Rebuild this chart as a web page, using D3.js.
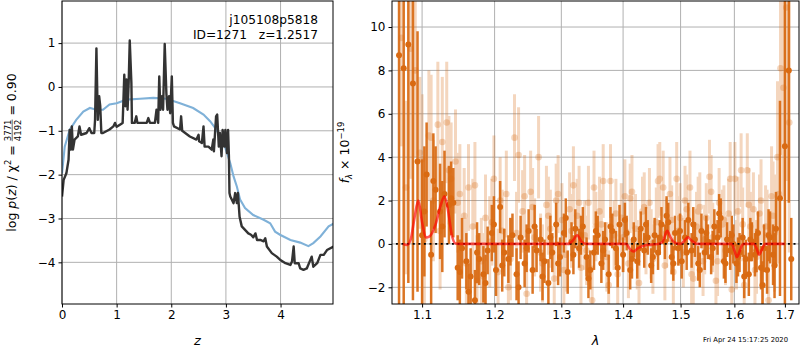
<!DOCTYPE html>
<html>
<head>
<meta charset="utf-8">
<script src="https://cdn.jsdelivr.net/npm/d3@7"></script>
<style>
body { margin: 0; background: #fff; }
text { font-family: "DejaVu Sans", sans-serif; white-space: pre; }
</style>
</head>
<body>
<svg width="800" height="350"></svg>
<script>
// ---- p(z) panel data ----
var zGrid = [0, 0.03, 0.08, 0.12, 0.14, 0.16, 0.18, 0.2, 0.23, 0.29, 0.32, 0.35, 0.45, 0.5, 0.54, 0.59, 0.605, 0.63, 0.655, 0.68, 0.70, 0.72, 0.75, 0.87, 0.94, 0.97, 1.0, 1.06, 1.11, 1.14, 1.16, 1.18, 1.2, 1.22, 1.24, 1.27, 1.28, 1.33, 1.36, 1.38, 1.55, 1.58, 1.61, 1.70, 1.73, 1.76, 1.78, 1.80, 1.83, 1.85, 1.88, 1.91, 1.93, 1.96, 1.98, 2.01, 2.03, 2.05, 2.16, 2.18, 2.2, 2.34, 2.46, 2.5, 2.51, 2.56, 2.59, 2.61, 2.68, 2.74, 2.77, 2.78, 2.82, 2.84, 2.87, 2.89, 2.92, 2.94, 2.97, 2.99, 3.02, 3.04, 3.055, 3.065, 3.08, 3.14, 3.17, 3.2, 3.22, 3.25, 3.29, 3.35, 3.41, 3.46, 3.5, 3.54, 3.57, 3.63, 3.69, 3.72, 3.75, 3.84, 3.93, 3.99, 4.09, 4.18, 4.21, 4.24, 4.26, 4.33, 4.36, 4.42, 4.48, 4.57, 4.6, 4.67, 4.73, 4.79, 4.85, 4.97];
var logpz = [-2.5, -2.12, -1.97, -1.66, -0.98, -1.43, -0.9, -1.43, -1.2, -1.13, -0.9, -1.09, -1.05, -0.94, -1.05, -1.05, -0.75, 0.88, -0.75, -0.21, -0.44, -1.05, -1.05, -0.97, -0.9, -0.82, -0.91, -0.86, -0.82, 0.28, -0.44, 0.17, -0.52, 0.09, 1.06, 0.09, -0.82, -0.82, -0.67, -0.82, -0.82, -0.71, -0.82, -0.82, -0.52, -0.82, 0.24, -0.52, -0.21, -0.52, 0.98, -0.14, -0.52, -0.21, -0.6, 0.24, -0.82, -0.9, -0.97, -0.67, -1.0, -1.13, -1.2, -1.09, -1.24, -1.28, -0.9, -1.36, -1.36, -1.43, -1.2, -1.47, -0.67, -0.63, -1.36, -1.05, -1.58, -0.98, -1.36, -0.98, -1.51, -0.98, -1.58, -2.42, -2.5, -2.65, -2.42, -2.65, -2.42, -2.96, -3.18, -3.26, -3.34, -3.37, -3.43, -3.34, -3.49, -3.49, -3.52, -3.45, -3.64, -3.79, -3.87, -3.94, -4.02, -4.06, -3.98, -3.64, -4.02, -4.02, -4.14, -4.17, -4.14, -3.87, -4.1, -4.02, -3.83, -3.83, -3.72, -3.64];
var zPrior = [0, 0.05, 0.14, 0.26, 0.39, 0.51, 0.63, 0.75, 0.87, 1.0, 1.18, 1.43, 1.67, 1.91, 2.16, 2.4, 2.59, 2.71, 2.83, 2.96, 3.08, 3.14, 3.2, 3.26, 3.35, 3.5, 3.69, 3.81, 3.9, 3.99, 4.18, 4.36, 4.51, 4.6, 4.73, 4.88, 4.97];
var priorLogp = [-1.97, -1.36, -0.98, -0.75, -0.56, -0.48, -0.52, -0.52, -0.4, -0.37, -0.29, -0.27, -0.25, -0.27, -0.37, -0.48, -0.63, -0.78, -0.98, -1.28, -1.74, -2.04, -2.27, -2.57, -2.76, -2.92, -3.03, -3.11, -3.3, -3.37, -3.49, -3.55, -3.63, -3.56, -3.41, -3.18, -3.12];
var zTicks = [0, 1, 2, 3, 4];
var pzTicks = [-4, -3, -2, -1, 0, 1];

// ---- spectrum panel data (flux in 1e-19) ----
var lamA = [1.070, 1.076, 1.082, 1.088, 1.094, 1.100, 1.106, 1.112, 1.118, 1.124, 1.130, 1.136, 1.142, 1.148, 1.154, 1.160, 1.166, 1.172, 1.178, 1.184, 1.190, 1.196, 1.202, 1.208, 1.214, 1.220, 1.226, 1.232, 1.238, 1.244, 1.250, 1.256, 1.262, 1.268, 1.274, 1.280, 1.286, 1.292, 1.298, 1.304, 1.310, 1.316, 1.322, 1.328, 1.334, 1.340, 1.346, 1.352, 1.358, 1.364, 1.370, 1.376, 1.382, 1.388, 1.394, 1.400, 1.406, 1.412, 1.418, 1.424, 1.430, 1.436, 1.442, 1.448, 1.454, 1.460, 1.466, 1.472, 1.478, 1.484, 1.490, 1.496, 1.502, 1.508, 1.514, 1.520, 1.526, 1.532, 1.538, 1.544, 1.550, 1.556, 1.562, 1.568, 1.574, 1.580, 1.586, 1.592, 1.598, 1.604, 1.610, 1.616, 1.622, 1.628, 1.634, 1.640, 1.646, 1.652, 1.658, 1.664, 1.670, 1.676, 1.682, 1.690, 1.700, 1.708, 1.713];
var fluxA = [8.7, 8.1, 9.2, 7.4, 3.8, 0.4, 3.2, -0.5, 2.5, 1.5, 2.3, 1.8, 1.9, -1.1, -0.2, -0.8, -1.5, -2.6, -0.7, -1.4, -0.3, 0.5, -1.2, 1.7, -0.4, -0.7, 0.4, -1.4, 0.3, -0.9, 0.6, -1.2, -0.3, 0.2, -0.8, -1.8, -0.4, 0.9, -0.6, 0.5, -1.3, 0.1, 0.7, -0.2, 0.8, -0.6, -1.2, -0.4, 0.4, -0.9, 0.2, -1.4, 0.6, -0.2, 0.9, -0.5, 0.5, -1.2, 0.2, -0.8, 0.7, -0.3, 0.3, -1.0, 0.4, -0.4, 0.9, 0.1, 1.0, -0.6, 0.5, -0.2, -0.8, 0.3, 1.1, -0.3, 0.2, -0.9, 0.6, -0.4, 0.1, -0.6, 0.8, 0.3, 1.2, -0.8, 0.2, -0.3, 0.0, -0.9, -0.4, 0.3, -0.7, -1.4, 0.1, -0.5, 0.5, -1.1, -0.2, -1.2, 0.3, -0.5, 0.7, 2.1, 4.5, 8.0, -0.7];
var errA = [14, 12, 11, 10, 6, 3.5, 2.4, 2.5, 2.0, 2.2, 2.0, 1.8, 1.6, 1.5, 1.4, 1.3, 1.3, 1.4, 1.2, 1.3, 1.1, 1.3, 1.2, 1.2, 1.1, 1.1, 1.0, 1.2, 1.0, 1.1, 1.0, 1.1, 1.0, 1.0, 1.0, 1.1, 0.9, 1.0, 0.9, 0.9, 1.0, 0.9, 0.9, 0.9, 0.9, 0.9, 0.9, 0.8, 0.9, 0.9, 0.8, 0.9, 0.8, 0.8, 0.9, 0.8, 0.8, 0.9, 0.8, 0.8, 0.8, 0.8, 0.8, 0.8, 0.8, 0.8, 0.8, 0.8, 0.9, 0.8, 0.8, 0.8, 0.8, 0.8, 0.8, 0.8, 0.8, 0.8, 0.8, 0.8, 0.8, 0.8, 0.8, 0.8, 0.9, 0.8, 0.8, 0.9, 0.9, 0.9, 0.9, 0.9, 0.9, 1.0, 0.9, 1.0, 1.0, 1.0, 1.1, 1.1, 1.2, 1.4, 1.7, 4.5, 15, 6.1, 1.9];
// extra dark pixels between the ones above
var lamA2 = [1.103, 1.115, 1.127, 1.139, 1.151, 1.163, 1.175, 1.187, 1.199, 1.211, 1.223, 1.235, 1.247, 1.259, 1.271, 1.283, 1.295, 1.307, 1.319, 1.331, 1.343, 1.355, 1.367, 1.379, 1.391, 1.403, 1.415, 1.427, 1.439, 1.451, 1.463, 1.475, 1.487, 1.499, 1.511, 1.523, 1.535, 1.547, 1.559, 1.571, 1.583, 1.595, 1.607, 1.619, 1.631, 1.643, 1.655, 1.667, 1.679];
var fluxA2 = [1.5, 2.9, 0.8, 2.1, -1.3, -2.2, -0.4, -1.8, 0.9, -1.0, 0.1, -2.0, -0.2, 0.8, -1.5, 0.3, -0.9, 1.2, -0.5, 0.4, -1.6, 0.6, -0.3, 0.8, -1.1, 1.1, -0.7, -0.2, 0.9, -0.6, 0.3, 1.3, -0.9, 0.6, -0.4, 0.9, -1.2, 0.5, -0.2, 1.4, -0.9, 0.4, -0.6, -1.5, 0.2, -0.3, -1.9, 0.4, -1.0];
var errA2 = [3.0, 2.2, 2.1, 1.7, 1.5, 1.3, 1.4, 1.3, 1.3, 1.2, 1.1, 1.2, 1.1, 1.0, 1.1, 1.0, 1.0, 0.9, 0.9, 0.9, 0.9, 0.9, 0.9, 0.9, 0.9, 0.8, 0.9, 0.8, 0.8, 0.8, 0.8, 0.9, 0.8, 0.8, 0.8, 0.8, 0.8, 0.8, 0.8, 0.9, 0.9, 0.9, 0.9, 1.0, 1.0, 1.0, 1.1, 1.2, 1.5];

var lamB = [1.073, 1.079, 1.085, 1.091, 1.097, 1.103, 1.109, 1.115, 1.121, 1.127, 1.133, 1.139, 1.145, 1.151, 1.157, 1.163, 1.169, 1.175, 1.181, 1.187, 1.193, 1.199, 1.205, 1.211, 1.217, 1.223, 1.229, 1.235, 1.241, 1.247, 1.253, 1.259, 1.265, 1.271, 1.277, 1.283, 1.289, 1.295, 1.301, 1.307, 1.313, 1.319, 1.325, 1.331, 1.337, 1.343, 1.349, 1.355, 1.361, 1.367, 1.373, 1.379, 1.385, 1.391, 1.397, 1.403, 1.409, 1.415, 1.421, 1.427, 1.433, 1.439, 1.445, 1.451, 1.457, 1.463, 1.469, 1.475, 1.481, 1.487, 1.493, 1.499, 1.505, 1.511, 1.517, 1.523, 1.529, 1.535, 1.541, 1.547, 1.553, 1.559, 1.565, 1.571, 1.577, 1.583, 1.589, 1.595, 1.601, 1.607, 1.613, 1.619, 1.625, 1.631, 1.637, 1.643, 1.649, 1.655, 1.661, 1.667, 1.673, 1.679, 1.685, 1.691, 1.697, 1.703, 1.709];
var fluxB = [9.5, 2.6, 9.0, 8.0, 4.2, 0.2, 5.0, 2.0, 5.5, 4.7, 5.6, 3.0, 3.8, 2.3, 1.3, 2.6, 0.8, -1.7, -0.8, 1.2, 0.1, 3.0, -1.3, 0.6, 2.3, -0.7, 4.9, 4.1, 1.5, -2.3, 2.4, 0.3, 4.0, -0.9, 1.8, 0.7, -1.6, 2.3, 1.1, -0.5, 1.6, 2.7, 1.3, -1.1, 0.4, 1.9, -2.6, 0.8, 1.5, 2.9, -0.6, 2.9, 0.4, -1.4, 1.2, 2.2, -0.9, 2.4, 0.7, -1.8, 1.5, 0.2, 1.9, -0.7, 1.0, 3.0, 2.6, 0.5, 2.3, -1.3, 3.0, 1.2, -0.4, 1.6, 2.6, -1.6, 0.8, 1.7, -0.8, 1.2, 3.1, 0.3, -1.7, 1.9, 0.9, -0.3, 1.4, -2.1, 3.0, 1.5, 3.4, -1.9, 3.4, 0.8, 1.6, -0.6, 1.4, -1.9, 0.8, -2.6, 2.2, 0.5, 4.0, 8.1, 7.2, 10.9, 5.6];
var errB = [5, 4, 6, 4, 3.5, 3.0, 3.0, 2.8, 2.9, 3.0, 2.8, 2.6, 2.4, 2.3, 2.2, 2.0, 2.2, 2.1, 2.0, 2.0, 2.1, 2.0, 2.0, 1.9, 2.0, 1.9, 2.0, 2.2, 1.9, 1.8, 1.9, 1.8, 1.9, 1.8, 1.8, 1.8, 1.7, 1.8, 1.7, 1.7, 1.7, 1.8, 1.7, 1.7, 1.6, 1.7, 1.6, 1.6, 1.6, 1.7, 1.6, 1.7, 1.6, 1.6, 1.6, 1.7, 1.6, 1.7, 1.6, 1.6, 1.6, 1.6, 1.6, 1.6, 1.6, 1.7, 1.7, 1.6, 1.7, 1.6, 1.7, 1.6, 1.6, 1.6, 1.7, 1.6, 1.6, 1.6, 1.6, 1.6, 1.7, 1.6, 1.6, 1.6, 1.6, 1.6, 1.6, 1.6, 1.7, 1.6, 1.7, 1.6, 1.7, 1.6, 1.7, 1.7, 1.8, 1.8, 1.9, 2.0, 2.3, 2.7, 3.5, 4, 5, 8, 6];
var lamB2 = [1.100, 1.112, 1.124, 1.136, 1.148, 1.160, 1.172, 1.184, 1.196, 1.208, 1.220, 1.232, 1.244, 1.256, 1.268, 1.280, 1.292, 1.304, 1.316, 1.328, 1.340, 1.352, 1.364, 1.376, 1.388, 1.400, 1.412, 1.424, 1.436, 1.448, 1.460, 1.472, 1.484, 1.496, 1.508, 1.520, 1.532, 1.544, 1.556, 1.568, 1.580, 1.592, 1.604, 1.616, 1.628, 1.640, 1.652, 1.664, 1.676, 1.688];
var fluxB2 = [3.9, 4.9, 0.6, 3.4, 1.9, -0.9, 2.7, -1.5, 1.0, 2.0, -2.0, 0.5, 2.2, 1.7, -0.4, 1.3, 2.0, -1.2, 0.6, 1.9, -0.3, 2.6, 0.9, -1.9, 1.4, 0.3, 2.1, -0.5, 1.7, 0.0, 2.9, -1.0, 1.1, 0.6, 2.0, -1.4, 1.5, 0.2, 2.4, -0.8, 1.1, 3.0, -0.5, 0.9, 1.8, -1.2, 2.0, 0.4, 1.3, 2.3];
var errB2 = [3.0, 2.9, 2.7, 2.5, 2.3, 2.1, 2.0, 2.0, 2.0, 2.0, 1.9, 1.9, 1.9, 1.8, 1.8, 1.8, 1.7, 1.7, 1.7, 1.7, 1.6, 1.7, 1.6, 1.6, 1.6, 1.6, 1.6, 1.6, 1.6, 1.6, 1.7, 1.6, 1.6, 1.6, 1.6, 1.6, 1.6, 1.6, 1.7, 1.6, 1.6, 1.7, 1.6, 1.7, 1.7, 1.8, 1.9, 2.1, 2.5, 3.2];

var lamModel = [1.075, 1.080, 1.085, 1.090, 1.095, 1.100, 1.105, 1.110, 1.118, 1.125, 1.130, 1.135, 1.140, 1.145, 1.150, 1.310, 1.318, 1.325, 1.332, 1.340, 1.405, 1.412, 1.418, 1.425, 1.440, 1.460, 1.468, 1.476, 1.482, 1.490, 1.500, 1.507, 1.513, 1.520, 1.530, 1.595, 1.600, 1.605, 1.610, 1.615, 1.620, 1.638, 1.643, 1.648, 1.653, 1.660, 1.700];
var fluxModel = [0, -0.05, 0.2, 1.2, 2.0, 1.0, 0.3, 0.35, 0.9, 1.8, 2.2, 1.5, 0.4, 0.02, 0, 0, 0.15, 0.4, 0.1, 0, 0, -0.25, -0.35, -0.2, -0.05, 0, 0.1, 0.6, 0.3, 0.05, 0, 0.15, 0.3, 0.15, 0, 0, -0.3, -0.6, -0.35, -0.05, 0, 0, -0.2, -0.5, -0.3, 0, 0];
var lamTicks = [1.1, 1.2, 1.3, 1.4, 1.5, 1.6, 1.7];
var fluxTicks = [-2, 0, 2, 4, 6, 8, 10];

var svg = d3.select("svg");
var orange = "#d96a12";
var gridColor = "#b0b0b0";
var minus = d => d < 0 ? "\u2212" + Math.abs(d) : d;

// ---------------- left panel ----------------
var L = {x0: 62, x1: 333, y0: 1, y1: 304};
var xz = d3.scaleLinear().domain([0, 4.96]).range([L.x0, L.x1]);
var yp = d3.scaleLinear().domain([-4.95, 1.96]).range([L.y1, L.y0]);

var gl = svg.append("g");
gl.selectAll(".gx").data(zTicks).enter().append("line")
  .attr("x1", d => xz(d)).attr("x2", d => xz(d))
  .attr("y1", L.y0).attr("y2", L.y1)
  .attr("stroke", gridColor).attr("stroke-width", 1);
gl.selectAll(".gy").data(pzTicks).enter().append("line")
  .attr("x1", L.x0).attr("x2", L.x1)
  .attr("y1", d => yp(d)).attr("y2", d => yp(d))
  .attr("stroke", gridColor).attr("stroke-width", 1);

svg.append("clipPath").attr("id", "clipL").append("rect")
  .attr("x", L.x0).attr("y", L.y0).attr("width", L.x1 - L.x0).attr("height", L.y1 - L.y0);

var lineL = d3.line().x(d => xz(d[0])).y(d => yp(d[1]));
gl.append("path")
  .datum(d3.zip(zPrior, priorLogp))
  .attr("d", lineL)
  .attr("clip-path", "url(#clipL)")
  .attr("fill", "none").attr("stroke", "#7fb1d8").attr("stroke-width", 2.1);
gl.append("path")
  .datum(d3.zip(zGrid, logpz))
  .attr("d", lineL)
  .attr("clip-path", "url(#clipL)")
  .attr("fill", "none").attr("stroke", "#333").attr("stroke-width", 2.4).attr("stroke-linejoin", "round");

gl.append("g")
  .attr("transform", "translate(0," + L.y1 + ")")
  .call(d3.axisBottom(xz).tickValues(zTicks).tickSize(3.5).tickPadding(3).tickFormat(d3.format("d")));
gl.append("g")
  .attr("transform", "translate(" + L.x0 + ",0)")
  .call(d3.axisLeft(yp).tickValues(pzTicks).tickSize(3.5).tickPadding(3).tickFormat(minus));

gl.append("rect")
  .attr("x", L.x0).attr("y", L.y0).attr("width", L.x1 - L.x0).attr("height", L.y1 - L.y0)
  .attr("fill", "none").attr("stroke", "#000").attr("stroke-width", 1);

gl.append("text").attr("x", 318).attr("y", 24).attr("text-anchor", "end")
  .attr("font-size", "12.2px").text("j105108p5818");
gl.append("text").attr("x", 318).attr("y", 39).attr("text-anchor", "end")
  .attr("font-size", "12.2px").text("ID=1271   z=1.2517");

gl.append("text").attr("x", (L.x0 + L.x1) / 2).attr("y", 345).attr("text-anchor", "middle")
  .attr("font-size", "13px").attr("font-style", "italic").text("z");

// y label with stacked fraction
var lab = gl.append("g");
var t1 = lab.append("text").attr("font-size", "12.5px").attr("x", 0).attr("y", 0);
t1.append("tspan").text("log ");
t1.append("tspan").attr("font-style", "italic").text("p");
t1.append("tspan").text("(");
t1.append("tspan").attr("font-style", "italic").text("z");
t1.append("tspan").text(") / \u03c7");
t1.append("tspan").attr("font-size", "8.5px").attr("dy", -5).text("2");
t1.append("tspan").attr("dy", 5).text(" = ");
var l1 = t1.node().getComputedTextLength();
var num = lab.append("text").attr("font-size", "8.5px").attr("text-anchor", "middle").attr("y", -5).text("3771");
var fw = num.node().getComputedTextLength();
num.attr("x", l1 + fw / 2);
lab.append("text").attr("font-size", "8.5px").attr("text-anchor", "middle").attr("y", 5)
  .attr("x", l1 + fw / 2).text("4192");
lab.append("line").attr("x1", l1).attr("x2", l1 + fw).attr("y1", -3.8).attr("y2", -3.8)
  .attr("stroke", "#000").attr("stroke-width", 0.6);
var t3 = lab.append("text").attr("font-size", "12.5px").attr("x", l1 + fw).text(" = 0.90");
var total = l1 + fw + t3.node().getComputedTextLength();
lab.attr("transform", "translate(16," + ((L.y0 + L.y1) / 2 + total / 2) + ") rotate(-90)");

// ---------------- right panel ----------------
var R = {x0: 392, x1: 799, y0: 1, y1: 304};
var xl = d3.scaleLog().domain([1.061, 1.729]).range([R.x0, R.x1]);
var yf = d3.scaleLinear().domain([-2.77, 11.2]).range([R.y1, R.y0]);

var gr = svg.append("g");
gr.selectAll(".gx").data(lamTicks).enter().append("line")
  .attr("x1", d => xl(d)).attr("x2", d => xl(d))
  .attr("y1", R.y0).attr("y2", R.y1)
  .attr("stroke", gridColor).attr("stroke-width", 1);
gr.selectAll(".gy").data(fluxTicks).enter().append("line")
  .attr("x1", R.x0).attr("x2", R.x1)
  .attr("y1", d => yf(d)).attr("y2", d => yf(d))
  .attr("stroke", gridColor).attr("stroke-width", 1);

svg.append("clipPath").attr("id", "clipR").append("rect")
  .attr("x", R.x0).attr("y", R.y0).attr("width", R.x1 - R.x0).attr("height", R.y1 - R.y0);

var marks = gr.append("g").attr("clip-path", "url(#clipR)");

// light spectrum (second orientation)
var specB = d3.zip(lamB.concat(lamB2), fluxB.concat(fluxB2), errB.concat(errB2));
var gB = marks.append("g").attr("opacity", 0.27);
gB.selectAll("line").data(specB).enter().append("line")
  .attr("x1", d => xl(d[0])).attr("x2", d => xl(d[0]))
  .attr("y1", d => yf(d[1] - d[2])).attr("y2", d => yf(d[1] + d[2]))
  .attr("stroke", orange).attr("stroke-width", 3);
var gBm = marks.append("g").attr("opacity", 0.27);
gBm.selectAll("circle").data(specB).enter().append("circle")
  .attr("cx", d => xl(d[0])).attr("cy", d => yf(d[1])).attr("r", 3.3)
  .attr("fill", orange);

// dark spectrum
var specA = d3.zip(lamA.concat(lamA2), fluxA.concat(fluxA2), errA.concat(errA2));
marks.append("g").selectAll("line").data(specA).enter().append("line")
  .attr("x1", d => xl(d[0])).attr("x2", d => xl(d[0]))
  .attr("y1", d => yf(d[1] - d[2])).attr("y2", d => yf(d[1] + d[2]))
  .attr("stroke", orange).attr("stroke-width", 2.5).attr("opacity", 0.92);
marks.append("g").selectAll("circle").data(specA).enter().append("circle")
  .attr("cx", d => xl(d[0])).attr("cy", d => yf(d[1])).attr("r", 3)
  .attr("fill", orange);

// zero line + model
marks.append("line")
  .attr("x1", xl(1.066)).attr("x2", xl(1.726))
  .attr("y1", yf(0)).attr("y2", yf(0))
  .attr("stroke", "#000").attr("stroke-width", 1.8).attr("stroke-dasharray", "2,3.6");
marks.append("path")
  .datum(d3.zip(lamModel, fluxModel))
  .attr("d", d3.line().curve(d3.curveMonotoneX).x(d => xl(d[0])).y(d => yf(d[1])))
  .attr("fill", "none").attr("stroke", "red").attr("stroke-width", 2.6).attr("opacity", 0.65);

gr.append("g")
  .attr("transform", "translate(0," + R.y1 + ")")
  .call(d3.axisBottom(xl).tickValues(lamTicks).tickSize(3.5).tickPadding(3).tickFormat(d3.format(".1f")));
gr.append("g")
  .attr("transform", "translate(" + R.x0 + ",0)")
  .call(d3.axisLeft(yf).tickValues(fluxTicks).tickSize(3.5).tickPadding(3).tickFormat(minus));

gr.append("rect")
  .attr("x", R.x0).attr("y", R.y0).attr("width", R.x1 - R.x0).attr("height", R.y1 - R.y0)
  .attr("fill", "none").attr("stroke", "#000").attr("stroke-width", 1);

gr.append("text").attr("x", (R.x0 + R.x1) / 2).attr("y", 345).attr("text-anchor", "middle")
  .attr("font-size", "13px").attr("font-style", "italic").text("\u03bb");

var fl = gr.append("text").attr("font-size", "12.5px").attr("text-anchor", "middle")
  .attr("transform", "translate(349," + ((R.y0 + R.y1) / 2) + ") rotate(-90)");
fl.append("tspan").attr("font-style", "italic").text("f");
fl.append("tspan").attr("font-style", "italic").attr("font-size", "8.5px").attr("dy", 3).text("\u03bb");
fl.append("tspan").attr("dy", -3).text(" \u00d7 10");
fl.append("tspan").attr("font-size", "8.5px").attr("dy", -5).text("\u221219");

gr.append("text").attr("x", 788).attr("y", 342).attr("text-anchor", "end")
  .attr("font-size", "6.8px").text("Fri Apr 24 15:17:25 2020");

svg.selectAll(".tick text").attr("font-size", "12px").attr("fill", "#000");
svg.selectAll(".domain").remove();
svg.selectAll(".tick line").attr("stroke", "#000");
</script>
</body>
</html>
